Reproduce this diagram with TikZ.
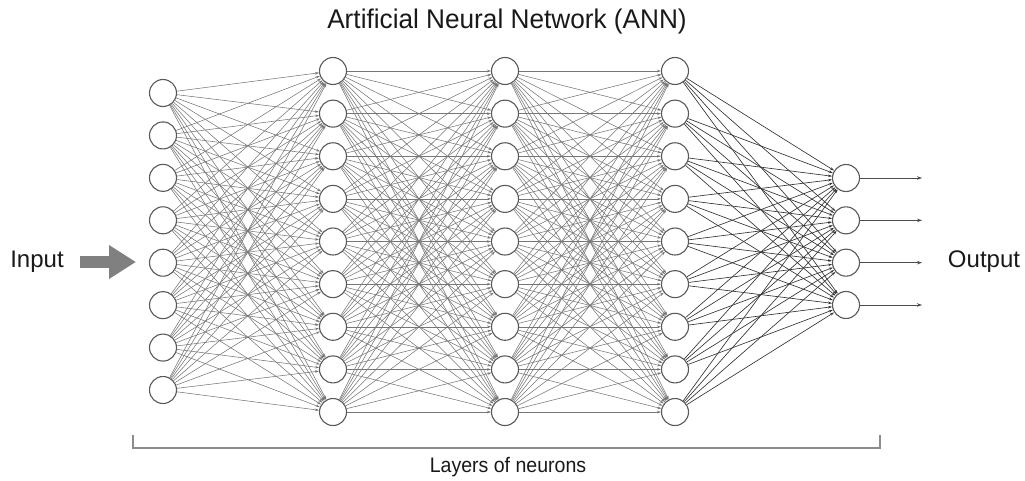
\documentclass[tikz,border=0pt]{standalone}
\usepackage{fontspec}
\setmainfont{Liberation Sans}
\usetikzlibrary{arrows.meta,backgrounds}
\definecolor{edgegray}{HTML}{767676}
\definecolor{edgedark}{HTML}{333333}
\definecolor{arrowgray}{HTML}{808080}
\begin{document}
\begin{tikzpicture}[x=1pt,y=-1pt,
  neuron/.style={circle,draw=black!65,line width=1.1pt,fill=white,minimum size=27pt,inner sep=0pt},
  edge/.style={draw=edgegray,line width=0.55pt,-{Stealth[length=4pt,width=2.6pt]}},
  edgeout/.style={draw=edgedark,line width=0.65pt,-{Stealth[length=4pt,width=2.6pt]}},
  outarrow/.style={draw=black!70,line width=0.7pt,-{Stealth[length=5pt,width=3.5pt]}},
  inarrow/.style={draw=arrowgray,line width=12pt,-{Triangle[length=27pt,width=32pt]}},
  bracketline/.style={draw=black!45,line width=1.6pt},
  label/.style={font=\fontsize{24}{28}\selectfont,text=black!90,inner sep=0pt}
]
\useasboundingbox (0,0) rectangle (1025,481);

% neurons
\foreach \i in {1,...,8} \node[neuron] (a\i) at (163,{93+(\i-1)*42.43}) {};
\foreach \i in {1,...,9} \node[neuron] (b\i) at (333,{71+(\i-1)*42.63}) {};
\foreach \i in {1,...,9} \node[neuron] (c\i) at (505,{71+(\i-1)*42.63}) {};
\foreach \i in {1,...,9} \node[neuron] (d\i) at (675,{71+(\i-1)*42.63}) {};
\foreach \i in {1,...,4} \node[neuron] (e\i) at (846,{178+(\i-1)*42.33}) {};
\foreach \i in {1,...,4} \coordinate (o\i) at (922,{178+(\i-1)*42.33});

% connections
\begin{scope}[on background layer]
\foreach \i in {1,...,8} \foreach \j in {1,...,9} \draw[edge] (a\i) -- (b\j);
\foreach \i in {1,...,9} \foreach \j in {1,...,9} \draw[edge] (b\i) -- (c\j);
\foreach \i in {1,...,9} \foreach \j in {1,...,9} \draw[edge] (c\i) -- (d\j);
\foreach \i in {1,...,9} \foreach \j in {1,...,4} \draw[edgeout] (d\i) -- (e\j);
\end{scope}

% outputs
\foreach \i in {1,...,4} \draw[outarrow] (e\i) -- (o\i);

% input
\node[label] (inlbl) at (37,262) {Input};
\coordinate (instart) at (80,262);
\draw[inarrow] (instart) -- (136,262);

\node[label] (outlbl) at (984,262) {Output};

% title
\node[label,font=\fontsize{27}{32}\selectfont] (title) at (507,22) {\scalebox{0.97}[1]{Artificial Neural Network (ANN)}};

% bracket
\draw[bracketline] (133,435) -- (133,448) -- (880,448) -- (880,435);
\node[label,font=\fontsize{21}{25}\selectfont] (layers) at (508,467) {\scalebox{0.93}[1]{Layers of neurons}};
\end{tikzpicture}
\end{document}
